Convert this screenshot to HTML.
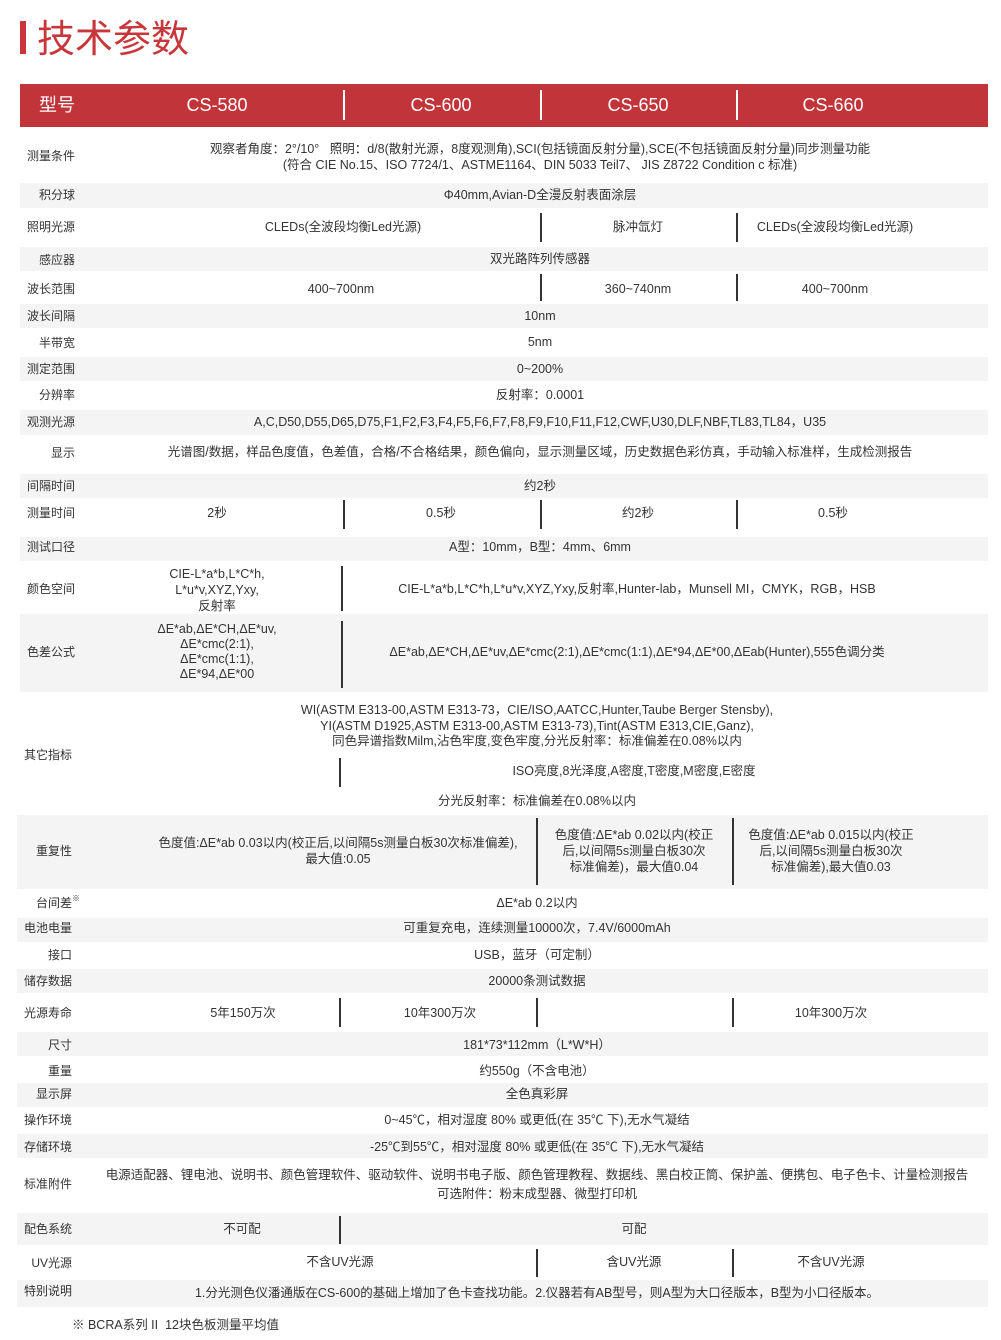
<!DOCTYPE html>
<html><head><meta charset="utf-8"><style>
*{margin:0;padding:0;box-sizing:border-box}
body{width:1001px;height:1340px;background:#fff;position:relative;overflow:hidden;font-family:"Liberation Sans","Noto Sans CJK SC",sans-serif;color:#333;font-size:12.5px}
.g{position:absolute;background:#f4f4f4}
.t{position:absolute;white-space:nowrap;transform:translateX(-50%);line-height:16px;text-align:center}
.l{position:absolute;white-space:nowrap;line-height:16px;text-align:right;width:80px;font-size:12px}
.v{position:absolute;width:1.5px;background:#333}
.hv{position:absolute;width:1.5px;background:#fff;top:90px;height:30px}
.h{position:absolute;color:#fff;font-size:18px;line-height:20px;top:95px;transform:translateX(-50%);white-space:nowrap}
</style></head><body>
<div style="position:absolute;left:20px;top:21px;width:6px;height:33px;background:#c8363a"></div>
<div style="position:absolute;left:37px;top:17px;font-size:38px;line-height:46px;color:#c8363a">技术参数</div>
<div style="position:absolute;left:20px;top:84px;width:968px;height:43px;background:#c1343a"></div>
<div class="h" style="left:57px">型号</div>
<div class="h" style="left:217px">CS-580</div>
<div class="h" style="left:441px">CS-600</div>
<div class="h" style="left:638px">CS-650</div>
<div class="h" style="left:833px">CS-660</div>
<div class="hv" style="left:343px"></div><div class="hv" style="left:540px"></div><div class="hv" style="left:736px"></div>

<div class="g" style="left:20px;top:183px;width:968px;height:25px"></div>
<div class="g" style="left:20px;top:247px;width:968px;height:24px"></div>
<div class="g" style="left:20px;top:304px;width:968px;height:24px"></div>
<div class="g" style="left:20px;top:357px;width:968px;height:24px"></div>
<div class="g" style="left:20px;top:410px;width:968px;height:25px"></div>
<div class="g" style="left:20px;top:474px;width:968px;height:24px"></div>
<div class="g" style="left:20px;top:537px;width:968px;height:24px"></div>
<div class="g" style="left:20px;top:614px;width:968px;height:78px"></div>
<div class="g" style="left:17px;top:815px;width:971px;height:74px"></div>
<div class="g" style="left:17px;top:918px;width:971px;height:24px"></div>
<div class="g" style="left:17px;top:969px;width:971px;height:24px"></div>
<div class="g" style="left:17px;top:1032px;width:971px;height:24px"></div>
<div class="g" style="left:17px;top:1083px;width:971px;height:24px"></div>
<div class="g" style="left:17px;top:1134px;width:971px;height:24px"></div>
<div class="g" style="left:17px;top:1213px;width:971px;height:32px"></div>
<div class="g" style="left:17px;top:1280px;width:971px;height:27px"></div>

<div class="l" style="left:-5px;top:148px">测量条件</div>
<div class="l" style="left:-5px;top:187px">积分球</div>
<div class="l" style="left:-5px;top:219px">照明光源</div>
<div class="l" style="left:-5px;top:252px">感应器</div>
<div class="l" style="left:-5px;top:281px">波长范围</div>
<div class="l" style="left:-5px;top:308px">波长间隔</div>
<div class="l" style="left:-5px;top:335px">半带宽</div>
<div class="l" style="left:-5px;top:361px">测定范围</div>
<div class="l" style="left:-5px;top:387px">分辨率</div>
<div class="l" style="left:-5px;top:414px">观测光源</div>
<div class="l" style="left:-5px;top:445px">显示</div>
<div class="l" style="left:-5px;top:478px">间隔时间</div>
<div class="l" style="left:-5px;top:505px">测量时间</div>
<div class="l" style="left:-5px;top:539px">测试口径</div>
<div class="l" style="left:-5px;top:581px">颜色空间</div>
<div class="l" style="left:-5px;top:644px">色差公式</div>
<div class="l" style="left:-8px;top:747px">其它指标</div>
<div class="l" style="left:-8px;top:843px">重复性</div>
<div class="l" style="left:-8px;top:895px">台间差<sup style="font-size:8px;position:absolute;top:-4px">※</sup></div>
<div class="l" style="left:-8px;top:920px">电池电量</div>
<div class="l" style="left:-8px;top:947px">接口</div>
<div class="l" style="left:-8px;top:973px">储存数据</div>
<div class="l" style="left:-8px;top:1005px">光源寿命</div>
<div class="l" style="left:-8px;top:1037px">尺寸</div>
<div class="l" style="left:-8px;top:1063px">重量</div>
<div class="l" style="left:-8px;top:1086px">显示屏</div>
<div class="l" style="left:-8px;top:1112px">操作环境</div>
<div class="l" style="left:-8px;top:1139px">存储环境</div>
<div class="l" style="left:-8px;top:1176px">标准附件</div>
<div class="l" style="left:-8px;top:1221px">配色系统</div>
<div class="l" style="left:-8px;top:1255px">UV光源</div>
<div class="l" style="left:-8px;top:1283px">特别说明</div>

<div class="t" style="left:540px;top:141px">观察者角度：2°/10°&nbsp;&nbsp;&nbsp;照明：d/8(散射光源，8度观测角),SCI(包括镜面反射分量),SCE(不包括镜面反射分量)同步测量功能</div>
<div class="t" style="left:540px;top:157px">(符合 CIE No.15、ISO 7724/1、ASTME1164、DIN 5033 Teil7、 JIS Z8722 Condition c 标准)</div>
<div class="t" style="left:540px;top:187px">Φ40mm,Avian-D全漫反射表面涂层</div>
<div class="t" style="left:343px;top:219px">CLEDs(全波段均衡Led光源)</div>
<div class="t" style="left:638px;top:219px">脉冲氙灯</div>
<div class="t" style="left:835px;top:219px">CLEDs(全波段均衡Led光源)</div>
<div class="t" style="left:540px;top:251px">双光路阵列传感器</div>
<div class="t" style="left:341px;top:281px">400~700nm</div>
<div class="t" style="left:638px;top:281px">360~740nm</div>
<div class="t" style="left:835px;top:281px">400~700nm</div>
<div class="t" style="left:540px;top:308px">10nm</div>
<div class="t" style="left:540px;top:334px">5nm</div>
<div class="t" style="left:540px;top:361px">0~200%</div>
<div class="t" style="left:540px;top:387px">反射率：0.0001</div>
<div class="t" style="left:540px;top:414px">A,C,D50,D55,D65,D75,F1,F2,F3,F4,F5,F6,F7,F8,F9,F10,F11,F12,CWF,U30,DLF,NBF,TL83,TL84，U35</div>
<div class="t" style="left:540px;top:444px">光谱图/数据，样品色度值，色差值，合格/不合格结果，颜色偏向，显示测量区域，历史数据色彩仿真，手动输入标准样，生成检测报告</div>
<div class="t" style="left:540px;top:478px">约2秒</div>
<div class="t" style="left:217px;top:505px">2秒</div>
<div class="t" style="left:441px;top:505px">0.5秒</div>
<div class="t" style="left:638px;top:505px">约2秒</div>
<div class="t" style="left:833px;top:505px">0.5秒</div>
<div class="t" style="left:540px;top:539px">A型：10mm，B型：4mm、6mm</div>
<div class="t" style="left:217px;top:566px">CIE-L*a*b,L*C*h,<br>L*u*v,XYZ,Yxy,<br>反射率</div>
<div class="t" style="left:637px;top:581px">CIE-L*a*b,L*C*h,L*u*v,XYZ,Yxy,反射率,Hunter-lab，Munsell MI，CMYK，RGB，HSB</div>
<div class="t" style="left:217px;top:622px;line-height:15px">ΔE*ab,ΔE*CH,ΔE*uv,<br>ΔE*cmc(2:1),<br>ΔE*cmc(1:1),<br>ΔE*94,ΔE*00</div>
<div class="t" style="left:637px;top:644px">ΔE*ab,ΔE*CH,ΔE*uv,ΔE*cmc(2:1),ΔE*cmc(1:1),ΔE*94,ΔE*00,ΔEab(Hunter),555色调分类</div>
<div class="t" style="left:537px;top:703px;line-height:15.5px">WI(ASTM E313-00,ASTM E313-73，CIE/ISO,AATCC,Hunter,Taube Berger Stensby),<br>YI(ASTM D1925,ASTM E313-00,ASTM E313-73),Tint(ASTM E313,CIE,Ganz),<br>同色异谱指数Milm,沾色牢度,变色牢度,分光反射率：标准偏差在0.08%以内</div>
<div class="t" style="left:634px;top:763px">ISO亮度,8光泽度,A密度,T密度,M密度,E密度</div>
<div class="t" style="left:537px;top:793px">分光反射率：标准偏差在0.08%以内</div>
<div class="t" style="left:338px;top:835px">色度值:ΔE*ab 0.03以内(校正后,以间隔5s测量白板30次标准偏差),<br>最大值:0.05</div>
<div class="t" style="left:634px;top:827px">色度值:ΔE*ab 0.02以内(校正<br>后,以间隔5s测量白板30次<br>标准偏差)，最大值0.04</div>
<div class="t" style="left:831px;top:827px">色度值:ΔE*ab 0.015以内(校正<br>后,以间隔5s测量白板30次<br>标准偏差),最大值0.03</div>
<div class="t" style="left:537px;top:895px">ΔE*ab 0.2以内</div>
<div class="t" style="left:537px;top:920px">可重复充电，连续测量10000次，7.4V/6000mAh</div>
<div class="t" style="left:537px;top:947px">USB，蓝牙（可定制）</div>
<div class="t" style="left:537px;top:973px">20000条测试数据</div>
<div class="t" style="left:243px;top:1005px">5年150万次</div>
<div class="t" style="left:440px;top:1005px">10年300万次</div>
<div class="t" style="left:831px;top:1005px">10年300万次</div>
<div class="t" style="left:537px;top:1037px">181*73*112mm（L*W*H）</div>
<div class="t" style="left:537px;top:1063px">约550g（不含电池）</div>
<div class="t" style="left:537px;top:1086px">全色真彩屏</div>
<div class="t" style="left:537px;top:1112px">0~45℃，相对湿度 80% 或更低(在 35℃ 下),无水气凝结</div>
<div class="t" style="left:537px;top:1139px">-25℃到55℃，相对湿度 80% 或更低(在 35℃ 下),无水气凝结</div>
<div class="t" style="left:537px;top:1167px">电源适配器、锂电池、说明书、颜色管理软件、驱动软件、说明书电子版、颜色管理教程、数据线、黑白校正筒、保护盖、便携包、电子色卡、计量检测报告</div>
<div class="t" style="left:537px;top:1186px">可选附件：粉末成型器、微型打印机</div>
<div class="t" style="left:242px;top:1221px">不可配</div>
<div class="t" style="left:634px;top:1221px">可配</div>
<div class="t" style="left:340px;top:1254px">不含UV光源</div>
<div class="t" style="left:634px;top:1254px">含UV光源</div>
<div class="t" style="left:831px;top:1254px">不含UV光源</div>
<div class="t" style="left:537px;top:1285px">1.分光测色仪潘通版在CS-600的基础上增加了色卡查找功能。2.仪器若有AB型号，则A型为大口径版本，B型为小口径版本。</div>
<div style="position:absolute;left:72px;top:1317px;line-height:16px;white-space:nowrap">※ BCRA系列 II&nbsp; 12块色板测量平均值</div>

<div class="v" style="left:540px;top:213px;height:29px"></div><div class="v" style="left:736px;top:213px;height:29px"></div>
<div class="v" style="left:540px;top:274px;height:27px"></div><div class="v" style="left:736px;top:274px;height:27px"></div>
<div class="v" style="left:343px;top:500px;height:29px"></div><div class="v" style="left:540px;top:500px;height:29px"></div><div class="v" style="left:736px;top:500px;height:29px"></div>
<div class="v" style="left:341px;top:566px;height:45px"></div>
<div class="v" style="left:341px;top:621px;height:67px"></div>
<div class="v" style="left:339px;top:758px;height:29px"></div>
<div class="v" style="left:536px;top:818px;height:67px"></div><div class="v" style="left:732px;top:818px;height:67px"></div>
<div class="v" style="left:339px;top:998px;height:29px"></div><div class="v" style="left:536px;top:998px;height:29px"></div><div class="v" style="left:732px;top:998px;height:29px"></div>
<div class="v" style="left:339px;top:1216px;height:28px"></div>
<div class="v" style="left:536px;top:1249px;height:28px"></div><div class="v" style="left:732px;top:1249px;height:28px"></div>
</body></html>
